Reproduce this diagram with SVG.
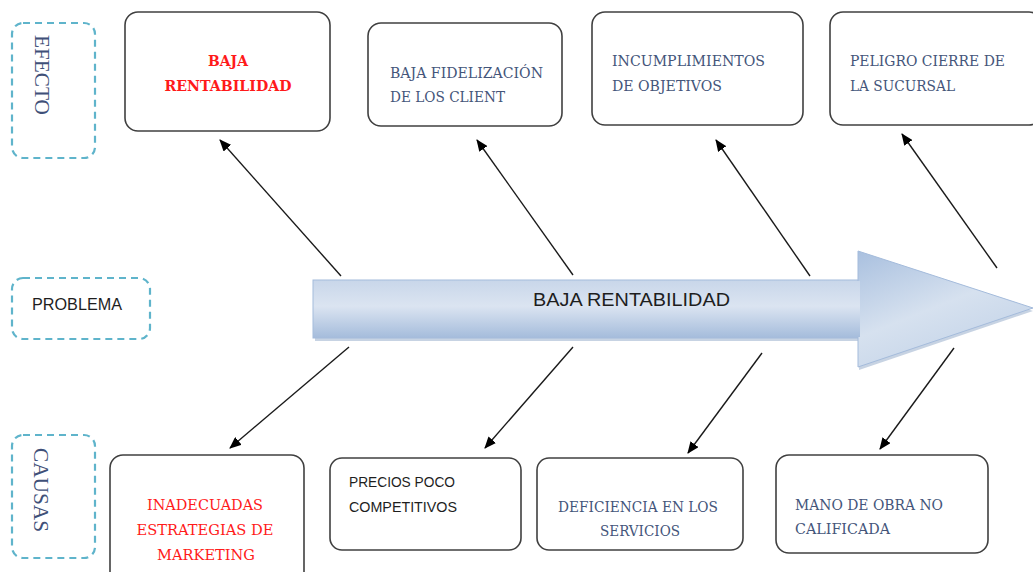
<svg xmlns="http://www.w3.org/2000/svg" width="1033" height="572" viewBox="0 0 1033 572">
<style>
.box{fill:#ffffff;stroke:#404040;stroke-width:1.6}
.dash{fill:none;stroke:#5fb4cb;stroke-width:2.2;stroke-dasharray:7 5}
.serif{font-family:"DejaVu Serif","Liberation Serif",serif;font-size:14px;fill:#44557a}
.red{fill:#ff1a1a}
.bold{font-weight:bold}
.sans{font-family:"Liberation Sans","Open Sans",sans-serif;fill:#1e1e1e}
.vert{font-family:"Liberation Serif","DejaVu Serif",serif;font-size:21px;fill:#3f5078}
.conn{stroke:#1a1a1a;stroke-width:1.4;fill:none;marker-end:url(#ah)}
</style>
<defs>
<marker id="ah" viewBox="0 0 12 10" refX="11" refY="5" markerWidth="12" markerHeight="10" markerUnits="userSpaceOnUse" orient="auto">
<path d="M0,0 L12,5 L0,10 z" fill="#000"/>
</marker>
<linearGradient id="shaftG" x1="0" y1="0" x2="0" y2="1">
<stop offset="0" stop-color="#c9d7ea"/>
<stop offset="0.45" stop-color="#dbe4f1"/>
<stop offset="1" stop-color="#a6bddc"/>
</linearGradient>
<linearGradient id="headG" x1="0" y1="0" x2="0.6" y2="1">
<stop offset="0" stop-color="#a9c0df"/>
<stop offset="0.55" stop-color="#d6e1ef"/>
<stop offset="1" stop-color="#c3d3e8"/>
</linearGradient>
</defs>

<g id="label-efecto">
<rect class="dash" x="12" y="23" width="83" height="135" rx="11"/>
<text class="vert" transform="translate(35,35) rotate(90)" textLength="80" lengthAdjust="spacingAndGlyphs">EFECTO</text>
</g>
<g id="label-problema">
<rect class="dash" x="12" y="278" width="138" height="61" rx="11"/>
<text class="sans" x="32" y="310" font-size="16.5" textLength="90" lengthAdjust="spacingAndGlyphs">PROBLEMA</text>
</g>
<g id="label-causas">
<rect class="dash" x="12" y="435" width="83" height="123" rx="11"/>
<text class="vert" transform="translate(34,448) rotate(90)" textLength="84" lengthAdjust="spacingAndGlyphs">CAUSAS</text>
</g>

<g id="spine">
<path d="M315,282 L859,282 L859,253 L1033,311 L859,370 L859,341 L315,341 Z" fill="#90a8c8" opacity="0.5"/>
<rect x="313" y="280" width="548" height="58" fill="url(#shaftG)" stroke="#a4bbdb" stroke-width="1"/>
<path d="M858,251 L1033,308 L858,367 Z" fill="url(#headG)" stroke="#a4bbdb" stroke-width="1"/>
<rect x="314" y="281" width="546" height="56" fill="url(#shaftG)"/>
<text class="sans" x="533" y="306" font-size="19" textLength="197" lengthAdjust="spacingAndGlyphs">BAJA RENTABILIDAD</text>
</g>

<g id="effect-1">
<rect class="box" x="125" y="12" width="205" height="119" rx="13"/>
<text class="serif red bold" x="228" y="66" text-anchor="middle" textLength="40" lengthAdjust="spacingAndGlyphs">BAJA</text>
<text class="serif red bold" x="228" y="91" text-anchor="middle" textLength="127" lengthAdjust="spacingAndGlyphs">RENTABILIDAD</text>
</g>
<g id="effect-2">
<rect class="box" x="368" y="23" width="194" height="103" rx="13"/>
<text class="serif" x="390" y="78" textLength="153" lengthAdjust="spacingAndGlyphs">BAJA FIDELIZACIÓN</text>
<text class="serif" x="390" y="102" textLength="115" lengthAdjust="spacingAndGlyphs">DE LOS CLIENT</text>
</g>
<g id="effect-3">
<rect class="box" x="592" y="12" width="211" height="113" rx="13"/>
<text class="serif" x="612" y="66" textLength="153" lengthAdjust="spacingAndGlyphs">INCUMPLIMIENTOS</text>
<text class="serif" x="612" y="91" textLength="110" lengthAdjust="spacingAndGlyphs">DE OBJETIVOS</text>
</g>
<g id="effect-4">
<rect class="box" x="830" y="12" width="212" height="113" rx="13"/>
<text class="serif" x="850" y="66" textLength="155" lengthAdjust="spacingAndGlyphs">PELIGRO CIERRE DE</text>
<text class="serif" x="850" y="91" textLength="105" lengthAdjust="spacingAndGlyphs">LA SUCURSAL</text>
</g>

<g id="cause-1">
<rect class="box" x="110" y="455" width="194" height="130" rx="13"/>
<text class="serif red" x="205" y="510" text-anchor="middle" textLength="116" lengthAdjust="spacingAndGlyphs">INADECUADAS</text>
<text class="serif red" x="205" y="535" text-anchor="middle" textLength="137" lengthAdjust="spacingAndGlyphs">ESTRATEGIAS DE</text>
<text class="serif red" x="206" y="560" text-anchor="middle" textLength="98" lengthAdjust="spacingAndGlyphs">MARKETING</text>
</g>
<g id="cause-2">
<rect class="box" x="330" y="458" width="191" height="92" rx="12"/>
<text class="sans" x="349" y="487" font-size="15" textLength="106" lengthAdjust="spacingAndGlyphs">PRECIOS POCO</text>
<text class="sans" x="349" y="512" font-size="15" textLength="108" lengthAdjust="spacingAndGlyphs">COMPETITIVOS</text>
</g>
<g id="cause-3">
<rect class="box" x="537" y="458" width="206" height="92" rx="12"/>
<text class="serif" x="638" y="512" text-anchor="middle" textLength="160" lengthAdjust="spacingAndGlyphs">DEFICIENCIA EN LOS</text>
<text class="serif" x="640" y="536" text-anchor="middle" textLength="80" lengthAdjust="spacingAndGlyphs">SERVICIOS</text>
</g>
<g id="cause-4">
<rect class="box" x="776" y="455" width="212" height="98" rx="13"/>
<text class="serif" x="795" y="510" textLength="148" lengthAdjust="spacingAndGlyphs">MANO DE OBRA NO</text>
<text class="serif" x="795" y="534" textLength="95" lengthAdjust="spacingAndGlyphs">CALIFICADA</text>
</g>

<g id="connectors">
<line class="conn" x1="341" y1="276" x2="220" y2="140"/>
<line class="conn" x1="573" y1="275" x2="477" y2="140"/>
<line class="conn" x1="810" y1="276" x2="716" y2="140"/>
<line class="conn" x1="997" y1="268" x2="902" y2="134"/>
<line class="conn" x1="349" y1="347" x2="230" y2="448"/>
<line class="conn" x1="573" y1="347" x2="485" y2="448"/>
<line class="conn" x1="762" y1="353" x2="688" y2="453"/>
<line class="conn" x1="954" y1="348" x2="880" y2="449"/>
</g>
</svg>
